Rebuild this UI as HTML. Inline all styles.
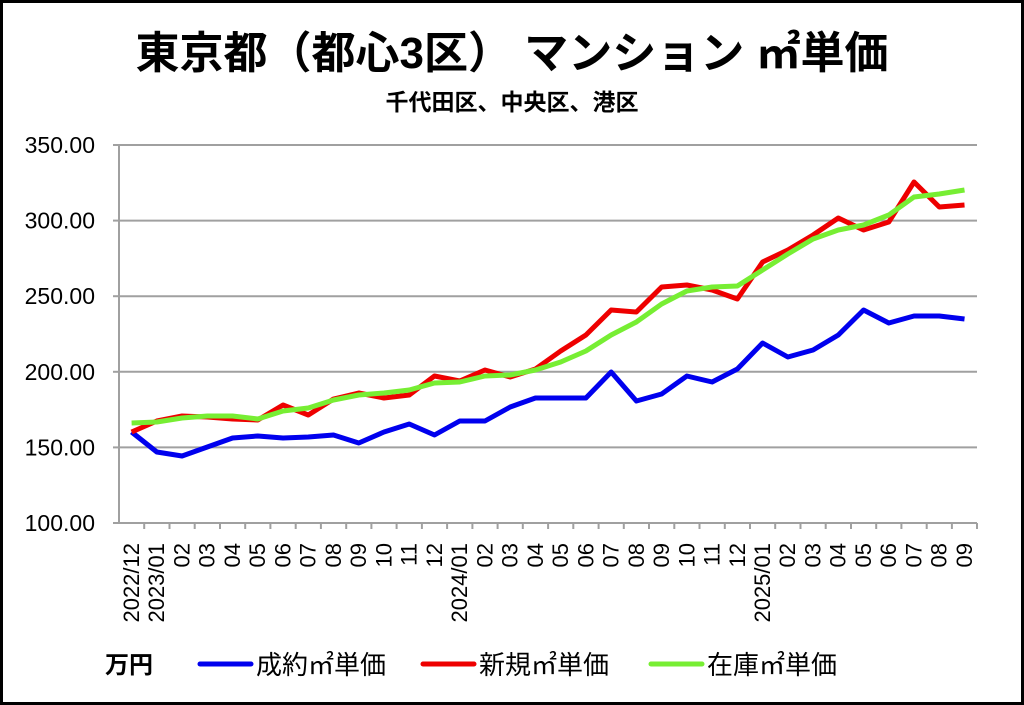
<!DOCTYPE html>
<html><head><meta charset="utf-8"><style>
html,body{margin:0;padding:0;background:#fff}
svg{display:block}
text{font-family:"Liberation Sans","Noto Sans CJK JP",sans-serif}
</style></head><body>
<svg width="1024" height="705" viewBox="0 0 1024 705">
<rect x="1.5" y="1.5" width="1021" height="702" fill="#fff" stroke="#000" stroke-width="3"/>
<text x="512" y="68" text-anchor="middle" font-size="44" font-weight="bold" font-family="'Noto Sans CJK JP',sans-serif">東京都（都心3区）  マンション  ㎡単価</text>
<text x="512" y="110" text-anchor="middle" font-size="23" font-weight="bold" font-family="'Noto Sans CJK JP',sans-serif">千代田区、中央区、港区</text>
<g stroke="#a0a0a0" stroke-width="2">
<line x1="119" y1="145" x2="977" y2="145"/>
<line x1="119" y1="220.6" x2="977" y2="220.6"/>
<line x1="119" y1="296.2" x2="977" y2="296.2"/>
<line x1="119" y1="371.8" x2="977" y2="371.8"/>
<line x1="119" y1="447.4" x2="977" y2="447.4"/>
<line x1="119" y1="523" x2="977" y2="523"/>
<line x1="119" y1="145" x2="119" y2="523"/>
<line x1="113" y1="145" x2="119" y2="145"/><line x1="113" y1="220.6" x2="119" y2="220.6"/><line x1="113" y1="296.2" x2="119" y2="296.2"/><line x1="113" y1="371.8" x2="119" y2="371.8"/><line x1="113" y1="447.4" x2="119" y2="447.4"/><line x1="113" y1="523" x2="119" y2="523"/>
</g>
<g stroke="#a0a0a0" stroke-width="2">
<line x1="144.2" y1="523" x2="144.2" y2="529"/><line x1="169.5" y1="523" x2="169.5" y2="529"/><line x1="194.7" y1="523" x2="194.7" y2="529"/><line x1="220" y1="523" x2="220" y2="529"/><line x1="245.2" y1="523" x2="245.2" y2="529"/><line x1="270.4" y1="523" x2="270.4" y2="529"/><line x1="295.7" y1="523" x2="295.7" y2="529"/><line x1="320.9" y1="523" x2="320.9" y2="529"/><line x1="346.2" y1="523" x2="346.2" y2="529"/><line x1="371.4" y1="523" x2="371.4" y2="529"/><line x1="396.6" y1="523" x2="396.6" y2="529"/><line x1="421.9" y1="523" x2="421.9" y2="529"/><line x1="447.1" y1="523" x2="447.1" y2="529"/><line x1="472.4" y1="523" x2="472.4" y2="529"/><line x1="497.6" y1="523" x2="497.6" y2="529"/><line x1="522.8" y1="523" x2="522.8" y2="529"/><line x1="548.1" y1="523" x2="548.1" y2="529"/><line x1="573.3" y1="523" x2="573.3" y2="529"/><line x1="598.6" y1="523" x2="598.6" y2="529"/><line x1="623.8" y1="523" x2="623.8" y2="529"/><line x1="649" y1="523" x2="649" y2="529"/><line x1="674.3" y1="523" x2="674.3" y2="529"/><line x1="699.5" y1="523" x2="699.5" y2="529"/><line x1="724.8" y1="523" x2="724.8" y2="529"/><line x1="750" y1="523" x2="750" y2="529"/><line x1="775.2" y1="523" x2="775.2" y2="529"/><line x1="800.5" y1="523" x2="800.5" y2="529"/><line x1="825.7" y1="523" x2="825.7" y2="529"/><line x1="851" y1="523" x2="851" y2="529"/><line x1="876.2" y1="523" x2="876.2" y2="529"/><line x1="901.4" y1="523" x2="901.4" y2="529"/><line x1="926.7" y1="523" x2="926.7" y2="529"/><line x1="951.9" y1="523" x2="951.9" y2="529"/><line x1="977" y1="523" x2="977" y2="529"/>
</g>
<g font-size="23" text-anchor="end" fill="#000">
<text x="95" y="153">350.00</text><text x="95" y="228.6">300.00</text><text x="95" y="304.2">250.00</text><text x="95" y="379.8">200.00</text><text x="95" y="455.4">150.00</text><text x="95" y="531">100.00</text>
</g>
<g font-size="22" text-anchor="end" fill="#000">
<text transform="translate(139,543) rotate(-90)">2022/12</text>
<text transform="translate(164.2,543) rotate(-90)">2023/01</text>
<text transform="translate(189.5,543) rotate(-90)">02</text>
<text transform="translate(214.7,543) rotate(-90)">03</text>
<text transform="translate(240,543) rotate(-90)">04</text>
<text transform="translate(265.2,543) rotate(-90)">05</text>
<text transform="translate(290.4,543) rotate(-90)">06</text>
<text transform="translate(315.7,543) rotate(-90)">07</text>
<text transform="translate(340.9,543) rotate(-90)">08</text>
<text transform="translate(366.2,543) rotate(-90)">09</text>
<text transform="translate(391.4,543) rotate(-90)">10</text>
<text transform="translate(416.6,543) rotate(-90)">11</text>
<text transform="translate(441.9,543) rotate(-90)">12</text>
<text transform="translate(467.1,543) rotate(-90)">2024/01</text>
<text transform="translate(492.4,543) rotate(-90)">02</text>
<text transform="translate(517.6,543) rotate(-90)">03</text>
<text transform="translate(542.8,543) rotate(-90)">04</text>
<text transform="translate(568.1,543) rotate(-90)">05</text>
<text transform="translate(593.3,543) rotate(-90)">06</text>
<text transform="translate(618.6,543) rotate(-90)">07</text>
<text transform="translate(643.8,543) rotate(-90)">08</text>
<text transform="translate(669,543) rotate(-90)">09</text>
<text transform="translate(694.3,543) rotate(-90)">10</text>
<text transform="translate(719.5,543) rotate(-90)">11</text>
<text transform="translate(744.8,543) rotate(-90)">12</text>
<text transform="translate(770,543) rotate(-90)">2025/01</text>
<text transform="translate(795.2,543) rotate(-90)">02</text>
<text transform="translate(820.5,543) rotate(-90)">03</text>
<text transform="translate(845.7,543) rotate(-90)">04</text>
<text transform="translate(871,543) rotate(-90)">05</text>
<text transform="translate(896.2,543) rotate(-90)">06</text>
<text transform="translate(921.4,543) rotate(-90)">07</text>
<text transform="translate(946.7,543) rotate(-90)">08</text>
<text transform="translate(971.9,543) rotate(-90)">09</text>
</g>
<g transform="translate(131.6,0) scale(25.24,1)" fill="none" stroke-width="5" stroke-linejoin="round">
<polyline vector-effect="non-scaling-stroke" stroke="#0000ee" points="0,432 1,452 2,456 3,447 4,438 5,436 6,438 7,437 8,435 9,443 10,432 11,424 12,435 13,421 14,421 15,407 16,398 17,398 18,398 19,372 20,401 21,394 22,376 23,382 24,369 25,343 26,357 27,350 28,335 29,310 30,323 31,316 32,316 33,319"/>
<polyline vector-effect="non-scaling-stroke" stroke="#ee0000" points="0,432 1,421 2,416 3,417 4,419 5,420 6,405 7,415 8,399 9,393 10,398 11,395 12,376 13,381 14,370 15,377 16,369 17,351 18,335 19,310 20,312 21,287 22,285 23,290 24,299 25,262 26,250 27,235 28,218 29,230 30,222 31,182 32,207 33,205"/>
<polyline vector-effect="non-scaling-stroke" stroke="#77ee33" points="0,423 1,422 2,418 3,416 4,416 5,419 6,411 7,408 8,400 9,395 10,393 11,390 12,383 13,382 14,376 15,375 16,370 17,362 18,351 19,335 20,322 21,304 22,291 23,287 24,286 25,270 26,254 27,239 28,230 29,225 30,215 31,197 32,194 33,190"/>
</g>
<text x="105" y="673" font-size="24" font-weight="bold" font-family="'Noto Sans CJK JP',sans-serif">万円</text>
<line x1="200" y1="664" x2="251" y2="664" stroke="#0000ee" stroke-width="5" stroke-linecap="round"/>
<text x="256" y="674" font-size="26" font-family="'Noto Sans CJK JP',sans-serif">成約㎡単価</text>
<line x1="423" y1="664" x2="474" y2="664" stroke="#ee0000" stroke-width="5" stroke-linecap="round"/>
<text x="479" y="674" font-size="26" font-family="'Noto Sans CJK JP',sans-serif">新規㎡単価</text>
<line x1="651" y1="664" x2="702" y2="664" stroke="#77ee33" stroke-width="5" stroke-linecap="round"/>
<text x="707" y="674" font-size="26" font-family="'Noto Sans CJK JP',sans-serif">在庫㎡単価</text>
</svg>
</body></html>
